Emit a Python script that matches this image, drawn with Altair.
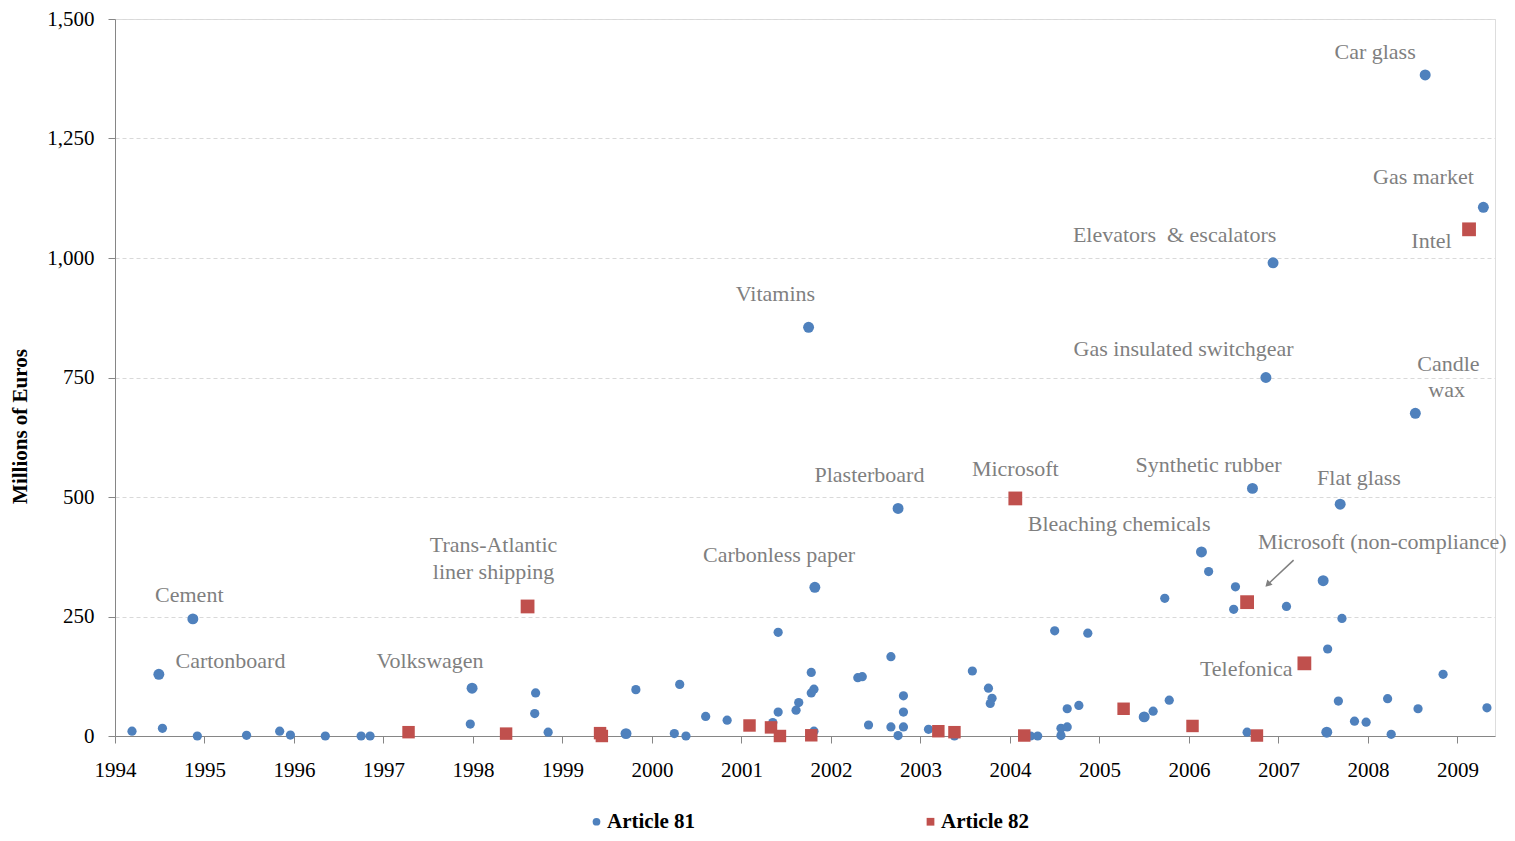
import altair as alt
import pandas as pd

# ---- Article 81 (cartels) : year of decision, fine in million euros, highlighted marker flag
a81_year = [1994.19, 1994.49, 1994.53, 1994.87, 1994.92, 1995.47, 1995.84, 1995.96, 1996.35, 1996.75,
            1996.85, 1997.97, 1997.99, 1998.69, 1998.70, 1998.84, 1999.71, 1999.82, 2000.25, 2000.31,
            2000.38, 2000.60, 2000.84, 2001.35, 2001.41, 2001.41, 2001.61, 2001.64, 2001.75, 2001.78,
            2001.78, 2001.81, 2001.81, 2001.82, 2002.30, 2002.35, 2002.42, 2002.67, 2002.67, 2002.75,
            2002.75, 2002.81, 2002.81, 2002.81, 2003.09, 2003.38, 2003.58, 2003.76, 2003.80, 2003.78,
            2004.23, 2004.31, 2004.50, 2004.57, 2004.57, 2004.64, 2004.64, 2004.77, 2004.87, 2005.50,
            2005.60, 2005.73, 2005.78, 2006.14, 2006.22, 2006.50, 2006.52, 2006.65, 2006.71, 2006.86,
            2006.94, 2007.09, 2007.50, 2007.54, 2007.55, 2007.67, 2007.69, 2007.71, 2007.85, 2007.98,
            2008.22, 2008.26, 2008.53, 2008.56, 2008.64, 2008.84, 2009.29, 2009.33]
a81_value = [10, 129, 16, 245, 0, 1.5, 10, 2, 0, 0,
             0, 25, 100, 47, 90, 8, 5, 97, 5, 108,
             0, 41, 33, 28, 50, 217, 54, 70, 855, 133,
             90, 98, 10, 311, 122, 124, 23, 166, 19, 1,
             476, 84, 50, 19, 14, 0, 136, 100, 79, 68,
             0, 0, 220, 1, 16, 19, 57, 64, 215, 40,
             52, 288, 75, 385, 344, 265, 312, 8, 518, 750,
             990, 271, 325, 8, 182, 73, 485, 246, 31, 29,
             78, 3.5, 675, 57, 1383, 129, 1106, 59]
a81_big = [0, 1, 0, 1, 0, 0, 0, 0, 0, 0,
           0, 0, 1, 0, 0, 0, 1, 0, 0, 0,
           0, 0, 0, 0, 0, 0, 0, 0, 1, 0,
           0, 0, 0, 1, 0, 0, 0, 0, 0, 0,
           1, 0, 0, 0, 0, 0, 0, 0, 0, 0,
           0, 0, 0, 0, 0, 0, 0, 0, 0, 1,
           0, 0, 0, 1, 0, 0, 0, 0, 1, 1,
           1, 0, 1, 1, 0, 0, 1, 0, 0, 0,
           0, 0, 1, 0, 1, 0, 1, 0]

# ---- Article 82 (abuse of dominance)
a82_year = [1997.28, 1998.37, 1998.61, 1999.42, 1999.44, 2001.09, 2001.33, 2001.43, 2001.78, 2003.20,
            2003.38, 2004.06, 2004.16, 2005.27, 2006.04, 2006.65, 2006.76, 2007.29, 2009.13]
a82_value = [8, 5, 271, 6, 0, 22, 18, 0, 1.5, 10,
             8, 497, 1, 57, 21, 280, 1, 152, 1060]
a82_big = [0, 0, 1, 0, 0, 0, 0, 0, 0, 0,
           0, 1, 0, 0, 0, 1, 0, 1, 1]

# ---- case labels (anchor in data units)
label_text = ["Cement", "Cartonboard", "Volkswagen", "Trans-Atlantic", "liner shipping",
              "Carbonless paper", "Vitamins", "Plasterboard", "Microsoft", "Bleaching chemicals",
              "Synthetic rubber", "Flat glass", "Microsoft (non-compliance)", "Telefonica",
              "Gas insulated switchgear", "Elevators \u00a0& escalators", "Car glass", "Gas market",
              "Intel", "Candle", "wax"]
label_year = [1994.83, 1995.29, 1997.52, 1998.23, 1998.23,
              2001.42, 2001.38, 2002.43, 2004.06, 2005.22,
              2006.22, 2007.90, 2008.16, 2006.64,
              2005.94, 2005.84, 2008.08, 2008.62,
              2008.71, 2008.90, 2008.88]
label_value = [296, 157, 157, 400, 344,
               379, 924, 545, 559, 443,
               566, 539, 406, 141,
               810, 1048, 1432, 1169,
               1036, 779, 723]

# ---- arrow pointing to Microsoft (non-compliance)
arrow_year = [2007.17, 2006.88]
arrow_value = [368, 317]

pts = pd.DataFrame({
    "year": a81_year + a82_year,
    "value": a81_value + a82_value,
    "article": ["Article 81"] * len(a81_year) + ["Article 82"] * len(a82_year),
    "marker": [("81-big" if b else "81-small") for b in a81_big]
              + [("82-big" if b else "82-small") for b in a82_big],
})
labels = pd.DataFrame({"text": label_text, "year": label_year, "value": label_value})
arrow = pd.DataFrame({"x": [arrow_year[0]], "y": [arrow_value[0]],
                      "x2": [arrow_year[1]], "y2": [arrow_value[1]]})
head = pd.DataFrame({"x": [arrow_year[1]], "y": [arrow_value[1]]})

SERIF = "Liberation Serif"
GREY_TXT = "#7f7f7f"

xscale = alt.Scale(domain=[1994, 2009.42], nice=False, zero=False)
yscale = alt.Scale(domain=[0, 1500], nice=False)

legend = alt.Legend(
    title=None, orient="none", legendX=471, legendY=792, direction="horizontal",
    labelFont=SERIF, labelFontSize=21, labelFontWeight="bold", labelColor="black",
    symbolSize=60, symbolStrokeWidth=0, labelOffset=0, columnPadding=224, padding=0,
)

x_axis = alt.Axis(values=list(range(1994, 2010)), format="d", title=None, grid=False,
                  labelFont=SERIF, labelFontSize=21, labelColor="black", labelPadding=16,
                  tickSize=7, tickColor="#868686", domainColor="#868686", labelFlush=False)
y_axis = alt.Axis(values=[0, 250, 500, 750, 1000, 1250, 1500], format=",d",
                  title="Millions of Euros", titleFont=SERIF, titleFontSize=21,
                  titleFontWeight="bold", titleColor="black", titleX=-95, titleY=407,
                  titleAngle=270, titleAlign="center", titleBaseline="middle",
                  labelFont=SERIF, labelFontSize=21, labelColor="black", labelPadding=14,
                  tickSize=7, tickColor="#868686", domainColor="#868686",
                  grid=True, gridColor="#d9d9d9", gridDash=[4, 3], gridWidth=1)

points = alt.Chart(pts).mark_point(filled=True, opacity=1).encode(
    x=alt.X("year:Q", scale=xscale, axis=x_axis),
    y=alt.Y("value:Q", scale=yscale, axis=y_axis),
    color=alt.Color("article:N", scale=alt.Scale(domain=["Article 81", "Article 82"],
                                                  range=["#4F81BD", "#C0504D"]), legend=legend),
    shape=alt.Shape("article:N", scale=alt.Scale(domain=["Article 81", "Article 82"],
                                                  range=["circle", "square"]), legend=legend),
    size=alt.Size("marker:N", scale=alt.Scale(domain=["81-small", "81-big", "82-small", "82-big"],
                                              range=[85, 190, 120, 210]), legend=None),
)

texts = alt.Chart(labels).mark_text(font=SERIF, fontSize=22, color=GREY_TXT,
                                    align="center", baseline="middle").encode(
    x=alt.X("year:Q", scale=xscale), y=alt.Y("value:Q", scale=yscale), text="text:N")

rule = alt.Chart(arrow).mark_rule(color="#808080", strokeWidth=1.5).encode(
    x=alt.X("x:Q", scale=xscale), x2="x2:Q", y=alt.Y("y:Q", scale=yscale), y2="y2:Q")

tip = alt.Chart(head).mark_point(shape="triangle-up", filled=True, size=55, angle=225,
                                 color="#808080", opacity=1).encode(
    x=alt.X("x:Q", scale=xscale), y=alt.Y("y:Q", scale=yscale))

chart = alt.layer(points, texts, rule, tip).properties(
    width=1380, height=717,
    autosize=alt.AutoSizeParams(type="none"),
    padding={"left": 107, "top": 11, "right": 12, "bottom": 97},
).configure_view(stroke="transparent").configure(background="white")

chart.save("out.html", embed_options={"renderer": "svg", "actions": False})
